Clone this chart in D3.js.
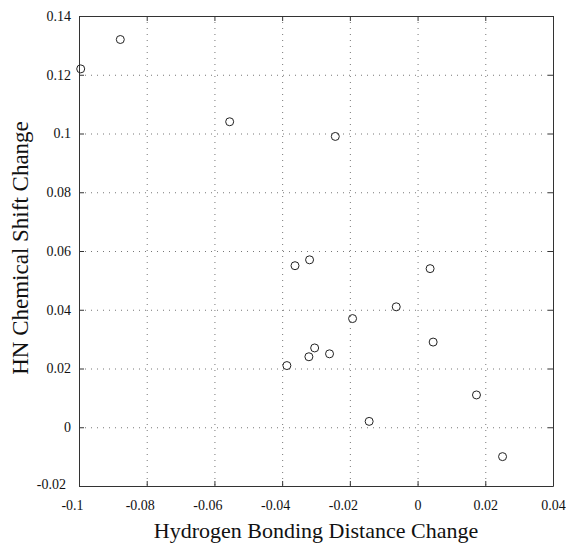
<!DOCTYPE html>
<meta charset="utf-8">
<head>
  <meta charset="UTF-8">
  <title>HN Chemical Shift vs Hydrogen Bonding Distance</title>
  <style>
    body { margin: 0; background: #fff; }
    text { font-family: "Liberation Serif", "Times New Roman", serif; fill: #111; }
    .grid line { stroke: #777; stroke-width: 1; stroke-dasharray: 1,5; }
  </style>
</head>
<body>
<script src="https://d3js.org/d3.v7.min.js"></script>
<div id="chart"></div>
<script>

// data
var distChange  = [-0.0995, -0.0878, -0.0555, -0.0243, -0.0362, -0.0319, 0.0037, -0.0063, -0.0192, 0.0046, -0.0386, -0.0321, -0.0304, -0.0260, -0.0143, 0.0174, 0.0251];
var shiftChange = [0.122, 0.132, 0.104, 0.099, 0.055, 0.057, 0.054, 0.041, 0.037, 0.029, 0.021, 0.024, 0.027, 0.025, 0.002, 0.011, -0.010];

var xTicks = [-0.1, -0.08, -0.06, -0.04, -0.02, 0, 0.02, 0.04];
var yTicks = [-0.02, 0, 0.02, 0.04, 0.06, 0.08, 0.1, 0.12, 0.14];

var width = 566,
    height = 544,
    plotLeft = 79, plotRight = 553,
    plotTop = 16, plotBottom = 486;

var serif = '"Liberation Serif", "Times New Roman", serif';

var x = d3.scaleLinear().domain([-0.1, 0.04]).range([plotLeft, plotRight]);
var y = d3.scaleLinear().domain([-0.02, 0.14]).range([plotBottom, plotTop]);

var svg = d3.select("#chart").append("svg")
    .attr("width", width)
    .attr("height", height);

// dotted grid
var grid = svg.append("g").attr("class", "grid");
grid.selectAll(".gx")
  .data(xTicks.slice(1, -1))
  .enter().append("line")
    .attr("x1", function(d) { return x(d) + 0.5; })
    .attr("x2", function(d) { return x(d) + 0.5; })
    .attr("y1", plotTop)
    .attr("y2", plotBottom);
grid.selectAll(".gy")
  .data(yTicks.slice(1, -1))
  .enter().append("line")
    .attr("y1", function(d) { return y(d) + 0.5; })
    .attr("y2", function(d) { return y(d) + 0.5; })
    .attr("x1", plotLeft)
    .attr("x2", plotRight);

// axes with inward ticks, on all four sides
function fmt(d) { return d3.format("~g")(d).replace("\u2212", "-"); }

var xAxis = svg.append("g")
    .attr("transform", "translate(0," + plotBottom + ")")
    .call(d3.axisBottom(x).tickValues(xTicks).tickSizeInner(-5).tickSizeOuter(0).tickPadding(14).tickFormat(fmt));
xAxis.attr("font-family", serif);
xAxis.selectAll("text")
    .style("font-family", serif)
    .style("font-size", "14px")
    .attr("dx", function(d) { return d < 0 ? "-7px" : 0; });

var yAxis = svg.append("g")
    .attr("transform", "translate(" + plotLeft + ",0)")
    .call(d3.axisLeft(y).tickValues(yTicks).tickSizeInner(-5).tickSizeOuter(0).tickPadding(8).tickFormat(fmt));
yAxis.attr("font-family", serif);
yAxis.selectAll("text")
    .style("font-family", serif)
    .style("font-size", "14px")
    .attr("dy", function(d) { return d < 0 ? "0.2em" : "0.32em"; })
    .attr("dx", function(d) { return d < 0 ? "-5px" : 0; });

svg.append("g")
    .attr("transform", "translate(0," + plotTop + ")")
    .call(d3.axisTop(x).tickValues(xTicks).tickSizeInner(-5).tickSizeOuter(0).tickFormat(""));
svg.append("g")
    .attr("transform", "translate(" + plotRight + ",0)")
    .call(d3.axisRight(y).tickValues(yTicks).tickSizeInner(-5).tickSizeOuter(0).tickFormat(""));

svg.selectAll(".domain, .tick line").attr("stroke", "#333");

// points
svg.append("g").selectAll("circle")
  .data(distChange)
  .enter().append("circle")
    .attr("cx", function(d) { return x(d); })
    .attr("cy", function(d, i) { return y(shiftChange[i]); })
    .attr("r", 4)
    .attr("fill", "none")
    .attr("stroke", "#222")
    .attr("stroke-width", 1);

// titles
svg.append("text")
    .attr("x", (plotLeft + plotRight) / 2)
    .attr("y", 538)
    .attr("text-anchor", "middle")
    .style("font-size", "22px")
    .text("Hydrogen Bonding Distance Change");

svg.append("text")
    .attr("transform", "translate(28," + 248 + ")rotate(-90)")
    .attr("text-anchor", "middle")
    .style("font-size", "23px")
    .text("HN Chemical Shift Change");

</script>
</body>
